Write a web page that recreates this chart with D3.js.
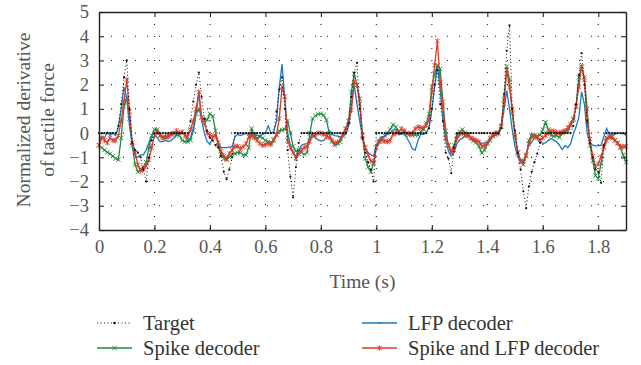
<!DOCTYPE html>
<html>
<head>
<meta charset="utf-8">
<script src="https://cdn.jsdelivr.net/npm/d3@7"></script>
<style>
    body { margin: 0; background: #fff; }
    svg text { font-family: "Liberation Serif", "DejaVu Serif", serif; }
</style>
</head>
<body>
<div id="derivativeChart"></div>
<script>

// Sampling step of the recordings (s)
var sampleStep = 0.01;

// Tick values
var xTicks = [0, 0.2, 0.4, 0.6, 0.8, 1, 1.2, 1.4, 1.6, 1.8];
var yTicks = [-4, -3, -2, -1, 0, 1, 2, 3, 4, 5];

// Target: normalized derivative of tactile force
var targetValues = [
    0, 0, 0, 0, 0, 0, 0, 0.3, 1.2, 2.3,
    3.0, 1.0, -0.4, -0.7, -0.8, -1.0, -1.5, -2.0, -1.0, -0.3,
    0, 0, 0, 0, 0, 0, 0, 0, 0, 0,
    0, 0, 0, 0.5, 1.3, 2.0, 2.5, 1.5, 0.6, 0.1,
    -0.2, -0.3, -0.5, -0.6, -0.95, -1.6, -1.9, -1.5, -1.0, 0,
    0, 0, 0, 0, 0, 0, 0, 0, 0, 0,
    0, 0, 0, 0, 0.9, 1.8, 2.3, 1.0, -0.7, -1.8,
    -2.65, -1.4, -0.4, 0, 0, 0, 0, 0, 0, 0,
    0, 0, 0, 0, 0, 0, 0, 0, 0, 0,
    0.4, 1.5, 2.5, 2.9, 1.0, -0.2, -0.8, -1.2, -1.5, -2.0,
    0, 0, 0, 0, 0, 0, 0, 0, 0, 0,
    0, 0, 0, 0, 0, 0, 0, 0, 0, 0.2,
    1.0, 2.0, 2.6, 1.2, 0.5, -0.8, -1.05, -1.65, -0.6, 0,
    0, 0, 0, 0, 0, 0, 0, 0, 0, 0,
    0, 0, 0, 0, 0, 0.2, 1.6, 3.4, 4.45, 1.0,
    0.1, -0.8, -1.5, -2.4, -3.1, -2.2, -1.6, -1.2, -0.85, -0.4,
    0, 0, 0, 0, 0, 0, 0, 0, 0, 0,
    0, 0.3, 1.2, 2.4, 3.3, 2.0, 0.5, -0.4, -1.0, -1.5,
    -1.6, -2.05, -0.5, 0, 0, 0, 0, 0, 0, 0, 0
];

// Spike decoder output
var spikeValues = [
    -0.5, -0.6, -0.7, -0.8, -0.85, -0.95, -1.05, -1.1, -0.2, 1.1,
    1.45, 0.6, -0.5, -1.3, -1.6, -1.5, -1.4, -1.2, -0.6, -0.1,
    0.15, 0.15, -0.1, -0.15, -0.2, -0.1, -0.05, 0.0, -0.05, -0.1,
    -0.3, -0.35, -0.35, -0.3, 0.1, 0.8, 1.0, 0.65, 0.55, 0.55,
    0.8, 0.7, 0.1, -0.5, -0.85, -1.05, -1.1, -1.0, -0.88, -0.85,
    -0.8, -0.8, -0.9, -0.9, -0.6, 0.2, -0.15, -0.2, -0.15, -0.2,
    -0.3, -0.36, -0.4, -0.25, -0.08, 0.1, 0.12, 0.15, 0.5, 0.0,
    -0.55, -0.75, -0.7, -0.8, -0.88, -0.8, 0.0, 0.6, 0.72, 0.78,
    0.8, 0.74, 0.54, 0.0, -0.35, -0.5, -0.43, -0.36, -0.12, 0.2,
    0.5, 1.7, 2.45, 1.98, 1.43, -0.1, -1.05, -1.4, -1.6, -1.25,
    -0.6, -0.35, -0.22, -0.1, 0.0, 0.15, 0.35, 0.25, 0.05, 0.0,
    0.05, 0.0, -0.05, -0.08, -0.08, -0.08, 0.05, 0.15, 0.4, 0.8,
    1.9, 2.45, 2.8, 2.65, 1.3, 0.1, -0.5, -0.8, -0.5, -0.1,
    0.05, 0.15, 0.02, -0.05, -0.2, -0.32, -0.38, -0.55, -0.82, -0.7,
    -0.45, -0.3, -0.12, -0.08, 0.0, 0.25, 1.4, 2.75, 2.2, 0.8,
    -0.15, -0.8, -1.15, -1.3, -0.95, -0.3, -0.1, -0.12, -0.12, -0.08,
    0.15, 0.45, 0.15, -0.1, -0.12, -0.1, -0.18, 0.0, 0.05, 0.1,
    0.3, 0.55, 1.1, 2.3, 2.74, 2.3, 1.0, -0.5, -1.15, -1.75,
    -1.87, -1.25, -0.55, -0.2, -0.15, -0.22, -0.29, -0.4, -0.6, -0.9, -1.2
];

// LFP decoder output
var lfpValues = [
    -0.3, -0.15, -0.2, 0.05, -0.1, 0.0, -0.1, 0.25, 1.0, 1.9,
    1.5, 0.3, -0.5, -0.95, -1.0, -0.9, -0.9, -0.7, -0.4, -0.1,
    0.0, -0.2, -0.35, -0.35, -0.3, -0.35, -0.3, -0.2, -0.1, 0.0,
    0.0, -0.1, -0.3, -0.2, 0.2, 0.8, 1.65, 0.5, 0.0, -0.35,
    -0.45, -0.2, -0.05, -0.4, -0.6, -0.6, -0.6, -0.58, -0.56, -0.15,
    -0.05, -0.1, -0.05, 0.0, -0.05, -0.1, -0.05, -0.1, -0.1, -0.05,
    0.0, 0.3, 0.0, 0.05, 0.5, 1.9, 2.85, 1.4, 0.0, -0.5,
    -0.84, -0.95, -0.7, -0.5, -0.45, -0.43, -0.22, 0.0, -0.2, -0.28,
    -0.33, -0.3, -0.2, 0.1, -0.05, -0.1, -0.12, -0.15, -0.1, -0.05,
    0.3, 1.1, 2.0, 1.2, 0.5, -0.15, -0.6, -0.8, -0.9, -0.95,
    -0.5, -0.25, -0.15, -0.15, -0.05, 0.0, 0.12, 0.15, -0.05, -0.05,
    0.0, -0.2, -0.4, -0.65, -0.7, -0.3, -0.05, -0.05, 0.0, 0.25,
    0.95, 1.9, 2.8, 1.8, 0.55, -0.3, -0.75, -0.95, -0.8, -0.45,
    -0.28, -0.22, -0.1, -0.12, -0.18, -0.25, -0.3, -0.36, -0.42, -0.4,
    -0.38, -0.3, -0.12, 0.0, -0.05, 0.2, 0.95, 1.75, 1.0, 0.12,
    -0.56, -1.0, -1.1, -1.15, -0.85, -0.5, -0.38, -0.2, -0.2, -0.36,
    -0.42, -0.4, -0.3, -0.22, -0.29, -0.36, -0.5, -0.68, -0.52, -0.6,
    -0.45, -0.05, 0.26, 0.65, 1.7, 1.2, 0.0, -0.42, -0.5, -0.53,
    -0.53, -0.5, -0.15, 0.19, -0.05, -0.08, -0.05, 0.0, 0.0, 0.0, -0.1
];

// Spike and LFP decoder output
var combinedValues = [
    -0.5, -0.2, -0.3, -0.4, -0.2, -0.3, -0.3, -0.1, 0.5, 1.3,
    2.2, 0.9, -0.4, -0.8, -1.3, -1.55, -1.5, -1.35, -1.1, -0.6,
    -0.1, 0.05, -0.1, -0.2, -0.15, -0.15, -0.05, 0.0, 0.1, 0.0,
    0.05, -0.1, -0.15, 0.15, 0.5, 1.0, 1.7, 0.65, 0.4, 0.0,
    -0.08, -0.15, -0.1, -0.4, -0.75, -0.95, -1.05, -0.85, -0.7, -0.55,
    -0.55, -0.63, -0.56, -0.45, -0.15, -0.1, -0.2, -0.3, -0.43, -0.5,
    -0.47, -0.43, -0.47, -0.3, -0.05, 0.6, 1.9, 1.5, -0.3, -0.6,
    -0.8, -1.05, -0.85, -0.7, -0.6, -0.55, -0.35, -0.1, -0.08, 0.0,
    0.0, -0.05, -0.12, -0.18, -0.3, -0.43, -0.38, -0.25, -0.05, 0.15,
    0.5, 0.95, 2.1, 1.98, 1.2, -0.2, -0.6, -0.9, -1.15, -1.2,
    -0.6, -0.36, -0.3, -0.33, -0.35, -0.3, -0.05, 0.0, 0.05, 0.18,
    0.1, -0.02, -0.05, 0.0, 0.18, 0.25, 0.22, 0.2, 0.33, 0.55,
    1.7, 2.8, 3.8, 2.1, 1.1, -0.2, -0.5, -0.75, -0.7, -0.25,
    -0.05, 0.0, -0.08, -0.12, -0.2, -0.25, -0.3, -0.36, -0.55, -0.52,
    -0.4, -0.2, -0.08, 0.0, 0.0, 0.3, 1.2, 2.6, 1.9, 1.0,
    -0.1, -0.8, -1.15, -1.2, -0.9, -0.45, -0.15, -0.1, -0.2, -0.28,
    -0.2, -0.1, 0.0, 0.08, 0.08, 0.03, 0.0, 0.05, 0.1, 0.22,
    0.38, 0.6, 1.1, 1.9, 2.74, 2.2, 0.5, -0.25, -0.95, -1.38,
    -1.27, -0.98, -0.6, -0.3, -0.15, -0.15, -0.3, -0.42, -0.55, -0.56, -0.55
];

// Series colours
var colors = {
    target: "#111111",
    spike: "#1f8a3c",
    lfp: "#1a78c2",
    combined: "#dd3b2a"
};

// Setting chart parameters
var properties = {
    width: 641,
    height: 365,
    margin: { top: 12, right: 15, bottom: 135, left: 99 }
};

var chartDimensions = {
    width: properties.width - properties.margin.left - properties.margin.right,
    height: properties.height - properties.margin.top - properties.margin.bottom
};

var svg = d3.select("#derivativeChart")
    .append("svg")
    .attr("width", properties.width)
    .attr("height", properties.height);

var chartContent = svg.append("g")
    .attr("transform", "translate(" + properties.margin.left + "," + properties.margin.top + ")");

// Scales
var xScale = d3.scaleLinear().domain([0, 1.9]).range([0, chartDimensions.width]);
var yScale = d3.scaleLinear().domain([-4, 5]).range([chartDimensions.height, 0]);

// Pairing each value with its sample time
function toPoints(values) {
    return values.map(function (v, i) { return { t: i * sampleStep, v: v }; });
}

var line = d3.line()
    .x(function (d) { return xScale(d.t); })
    .y(function (d) { return yScale(d.v); });

// Dotted grid
chartContent.append("g")
    .selectAll("line")
    .data(xTicks.slice(1))
    .enter()
    .append("line")
    .attr("x1", function (d) { return xScale(d); })
    .attr("x2", function (d) { return xScale(d); })
    .attr("y1", 0)
    .attr("y2", chartDimensions.height)
    .attr("stroke", "#222")
    .attr("stroke-width", 1.1)
    .attr("stroke-dasharray", "1.1,10.9");

chartContent.append("g")
    .selectAll("line")
    .data(yTicks.slice(1, -1))
    .enter()
    .append("line")
    .attr("x1", 0)
    .attr("x2", chartDimensions.width)
    .attr("y1", function (d) { return yScale(d); })
    .attr("y2", function (d) { return yScale(d); })
    .attr("stroke", "#222")
    .attr("stroke-width", 1.1)
    .attr("stroke-dasharray", "1.1,10.9");

// Marker drawers
function drawCross(g, x, y, s, color, star) {
    var p = "M" + (x - s) + "," + (y - s) + "L" + (x + s) + "," + (y + s) +
        "M" + (x - s) + "," + (y + s) + "L" + (x + s) + "," + (y - s);
    if (star) { p += "M" + x + "," + (y - s - 0.6) + "L" + x + "," + (y + s + 0.6); }
    g.append("path").attr("d", p).attr("stroke", color).attr("stroke-width", 0.9).attr("fill", "none");
}

function drawSeries(values, color, marker) {
    var pts = toPoints(values);
    var g = chartContent.append("g");
    g.append("path")
        .datum(pts)
        .attr("d", line)
        .attr("fill", "none")
        .attr("stroke", color)
        .attr("stroke-width", 1.3);
    if (marker) {
        pts.forEach(function (d) { drawCross(g, xScale(d.t), yScale(d.v), 2.2, color, marker === "star"); });
    }
}

drawSeries(spikeValues, colors.spike, "x");
drawSeries(lfpValues, colors.lfp, null);
drawSeries(combinedValues, colors.combined, "star");

// Target: dotted line with point markers
var targetPoints = toPoints(targetValues);
chartContent.append("path")
    .datum(targetPoints)
    .attr("d", line)
    .attr("fill", "none")
    .attr("stroke", colors.target)
    .attr("stroke-width", 1)
    .attr("stroke-dasharray", "1,2.5");
chartContent.append("g")
    .selectAll("circle")
    .data(targetPoints)
    .enter()
    .append("circle")
    .attr("cx", function (d) { return xScale(d.t); })
    .attr("cy", function (d) { return yScale(d.v); })
    .attr("r", 1.1)
    .attr("fill", colors.target);

// Axes with inward ticks on all four sides
function styleAxis(g) {
    g.select(".domain").attr("stroke", "#222").attr("stroke-width", 1.4);
    g.selectAll(".tick line").attr("stroke", "#222").attr("stroke-width", 1.1);
    g.selectAll("text").attr("fill", "#555").attr("font-size", 18.5);
}

chartContent.append("g")
    .attr("transform", "translate(0," + chartDimensions.height + ")")
    .call(d3.axisBottom(xScale).tickValues(xTicks).tickSize(-5).tickSizeOuter(0).tickPadding(10)
        .tickFormat(function (d) { return String(+d.toFixed(1)); }))
    .call(styleAxis);

chartContent.append("g")
    .call(d3.axisTop(xScale).tickValues(xTicks).tickSize(-5).tickSizeOuter(0).tickFormat(""))
    .call(styleAxis);

chartContent.append("g")
    .call(d3.axisLeft(yScale).tickValues(yTicks).tickSize(-5).tickSizeOuter(0).tickPadding(10))
    .call(styleAxis);

chartContent.append("g")
    .attr("transform", "translate(" + chartDimensions.width + ",0)")
    .call(d3.axisRight(yScale).tickValues(yTicks).tickSize(-5).tickSizeOuter(0).tickFormat(""))
    .call(styleAxis);

// Axis titles
svg.append("text")
    .attr("x", properties.margin.left + chartDimensions.width / 2)
    .attr("y", 288)
    .attr("text-anchor", "middle")
    .attr("fill", "#555")
    .attr("font-size", 19.5)
    .text("Time (s)");

var yTitle = svg.append("text")
    .attr("transform", "translate(0,120) rotate(-90)")
    .attr("text-anchor", "middle")
    .attr("fill", "#555")
    .attr("font-size", 19.5);
yTitle.append("tspan").attr("x", 0).attr("y", 30).text("Normalized derivative");
yTitle.append("tspan").attr("x", 0).attr("y", 54).text("of tactile force");

// Legend
var legendItems = [
    { label: "Target", color: colors.target, kind: "target", x: 97, y: 323 },
    { label: "LFP decoder", color: colors.lfp, kind: "lfp", x: 362, y: 323 },
    { label: "Spike decoder", color: colors.spike, kind: "x", x: 97, y: 348 },
    { label: "Spike and LFP decoder", color: colors.combined, kind: "star", x: 362, y: 348 }
];

legendItems.forEach(function (item) {
    var g = svg.append("g");
    g.append("line")
        .attr("x1", item.x).attr("x2", item.x + 35)
        .attr("y1", item.y).attr("y2", item.y)
        .attr("stroke", item.color)
        .attr("stroke-width", item.kind === "target" ? 1 : 1.3)
        .attr("stroke-dasharray", item.kind === "target" ? "1,2.5" : null);
    if (item.kind === "target") {
        g.append("circle").attr("cx", item.x + 17.5).attr("cy", item.y).attr("r", 1.3).attr("fill", item.color);
    } else if (item.kind === "lfp") {
        g.append("circle").attr("cx", item.x + 17.5).attr("cy", item.y).attr("r", 0.9).attr("fill", item.color);
    } else {
        drawCross(g, item.x + 17.5, item.y, 2.2, item.color, item.kind === "star");
    }
    g.append("text")
        .attr("x", item.x + 46)
        .attr("y", item.y)
        .attr("dy", "0.33em")
        .attr("fill", "#333")
        .attr("font-size", 20.5)
        .text(item.label);
});

</script>
</body>
</html>
